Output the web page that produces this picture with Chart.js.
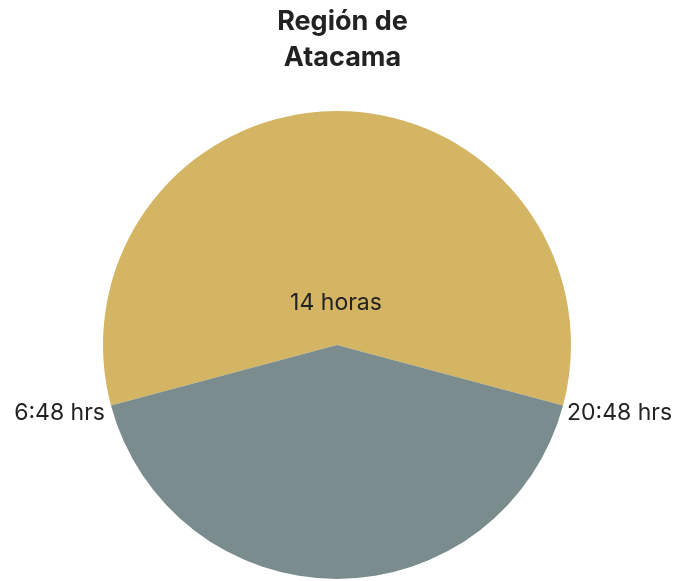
<!DOCTYPE html>
<html>
<head>
<meta charset="utf-8">
<script src="https://cdn.jsdelivr.net/npm/chart.js@4"></script>
<style>
  html, body { margin: 0; padding: 0; background: #fff; }
  #wrap { width: 677px; height: 581px; }
</style>
</head>
<body>
<div id="wrap"><canvas id="chart"></canvas></div>
<script>
// Daylight hours in Región de Atacama
const titleLines = ["Región de", "Atacama"];
const sliceLabels = ["Día", "Noche"];
const hours = [14, 10];
const sliceColors = ["#D3B563", "#7A8C8E"];
const centerLabel = "14 horas";
const sunriseLabel = "6:48 hrs";
const sunsetLabel = "20:48 hrs";

const FONT = "Inter, 'Open Sans', sans-serif";

// Draws the title and the annotations on top of the pie
const annotations = {
  id: "annotations",
  afterDraw(chart) {
    const { ctx } = chart;
    const arc = chart.getDatasetMeta(0).data[0];
    const { x, y, outerRadius, startAngle, endAngle } = arc;

    ctx.save();
    ctx.fillStyle = "#222";
    ctx.textAlign = "center";
    ctx.textBaseline = "middle";
    ctx.font = "bold 27px " + FONT;
    titleLines.forEach((line, i) => ctx.fillText(line, chart.width / 2 + 4, 22 + i * 36));

    ctx.font = "23px " + FONT;
    ctx.fillText(centerLabel, x - 1, y - 42);

    // labels sit next to where the slices meet on the rim
    ctx.textAlign = "right";
    ctx.fillText(sunriseLabel, x + Math.cos(startAngle) * outerRadius - 6, y + Math.sin(startAngle) * outerRadius + 8);
    ctx.textAlign = "left";
    ctx.fillText(sunsetLabel, x + Math.cos(endAngle) * outerRadius + 4, y + Math.sin(endAngle) * outerRadius + 8);
    ctx.restore();
  },
};

new Chart(document.getElementById("chart"), {
  type: "pie",
  data: {
    labels: sliceLabels,
    datasets: [{
      data: hours,
      backgroundColor: sliceColors,
      borderWidth: 0,
    }],
  },
  options: {
    responsive: true,
    maintainAspectRatio: false,
    animation: false,
    rotation: -105,
    layout: { padding: { top: 111, bottom: 2, left: 0, right: 3 } },
    plugins: {
      legend: { display: false },
      tooltip: { enabled: false },
      title: { display: false },
    },
  },
  plugins: [annotations],
});
</script>
</body>
</html>
